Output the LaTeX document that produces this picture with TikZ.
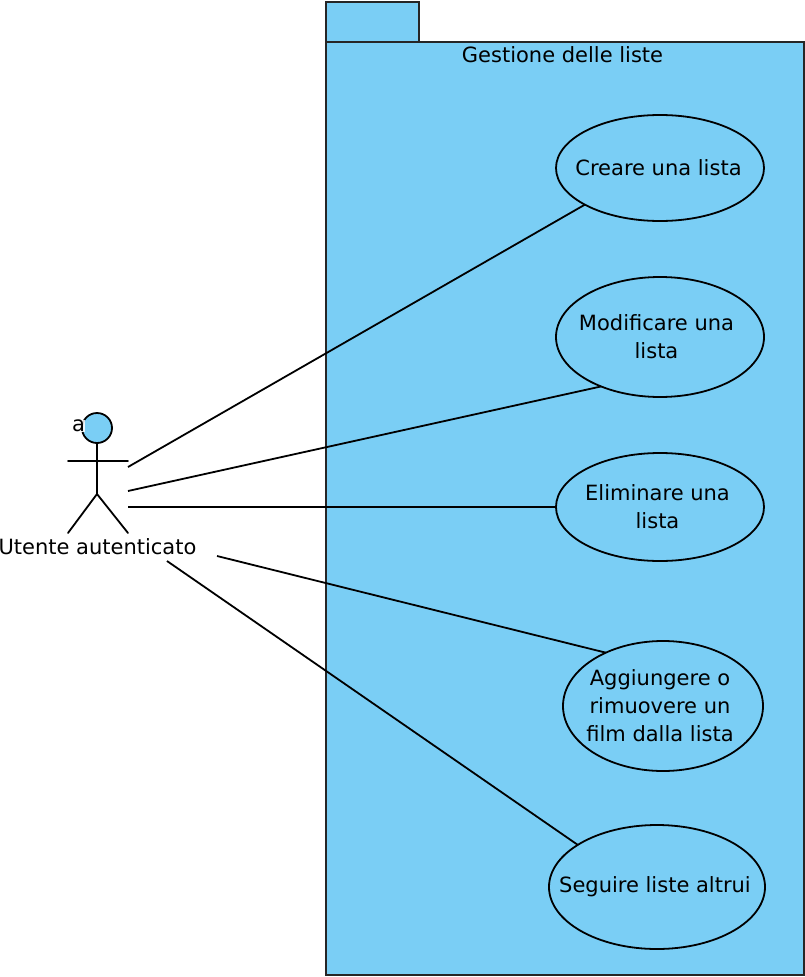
\documentclass[tikz,border=0pt]{standalone}
\usepackage{fontspec}
\setmainfont{DejaVu Sans}
\usetikzlibrary{
  positioning,
  shapes.geometric,
}
\definecolor{pkgblue}{RGB}{122,206,245}

\begin{document}
\begin{tikzpicture}[x=1pt,y=-1pt,
  font=\fontsize{21}{28}\selectfont,
  line width=1.8pt,
  pkg/.style={draw=black!85,fill=pkgblue,rectangle,inner sep=0pt,outer sep=0pt,anchor=north west},
  usecase/.style={draw,fill=pkgblue,ellipse,inner sep=0pt,outer sep=0pt},
  txt/.style={inner sep=0pt,outer sep=0pt,align=center},
  limb/.style={line width=1.8pt,line cap=round}]
  \useasboundingbox (0,0) rectangle (805,977);
  %%
  \node[pkg,minimum width=93pt,minimum height=40pt](Tab) at (326,2){};
  \node[pkg,minimum width=478pt,minimum height=933pt](Pkg) at (326,42){};
  \node[txt](PkgName) at (562.5,55){Gestione delle liste};
  %%
  \node[usecase,minimum width=208pt,minimum height=106pt,
    label={[txt,xshift=-1.5pt]center:Creare una lista}](Creare) at (660,168){};
  \node[usecase,minimum width=208pt,minimum height=120pt,
    label={[txt,xshift=-3.5pt]center:Modificare una\\lista}](Modificare) at (660,337){};
  \node[usecase,minimum width=208pt,minimum height=108pt,
    label={[txt,xshift=-2.5pt]center:Eliminare una\\lista}](Eliminare) at (660,507){};
  \node[usecase,minimum width=200pt,minimum height=130pt,
    label={[txt,xshift=-3pt]center:Aggiungere o\\rimuovere un\\film dalla lista}](Aggiungere) at (663,706){};
  \node[usecase,minimum width=216pt,minimum height=124pt,
    label={[txt,xshift=-2pt]center:Seguire liste altrui}](Seguire) at (657,887){};
  %%
  \coordinate(Hip) at (97,494);
  \coordinate(ArmL) at (68,461);
  \coordinate(ArmR) at (128,461);
  \coordinate(FootL) at (68,533);
  \coordinate(FootR) at (128,533);
  \node[draw,fill=pkgblue,circle,inner sep=0pt,outer sep=0pt,minimum size=30pt](Head) at (97,428){};
  \node[txt,fill=white,fill opacity=.85,text opacity=1](Mark) at (78.5,426){a};
  \draw[limb] (Head) -- (Hip);
  \draw[limb] (ArmL) -- (ArmR);
  \draw[limb] (FootL) -- (Hip) -- (FootR);
  \node[txt](Actor) at (97.5,547){Utente autenticato};
  %%
  \coordinate(A1) at (128,467);
  \coordinate(A2) at (128,491);
  \coordinate(A3) at (128,507);
  \coordinate(A4) at (217,556);
  \coordinate(A5) at (167,561);
  \draw (A1) -- (Creare.206);
  \draw (A2) -- (Modificare.220);
  \draw (A3) -- (Eliminare.west);
  \draw (A4) -- (Aggiungere.137);
  \draw (A5) -- (Seguire.152);
\end{tikzpicture}
\end{document}
